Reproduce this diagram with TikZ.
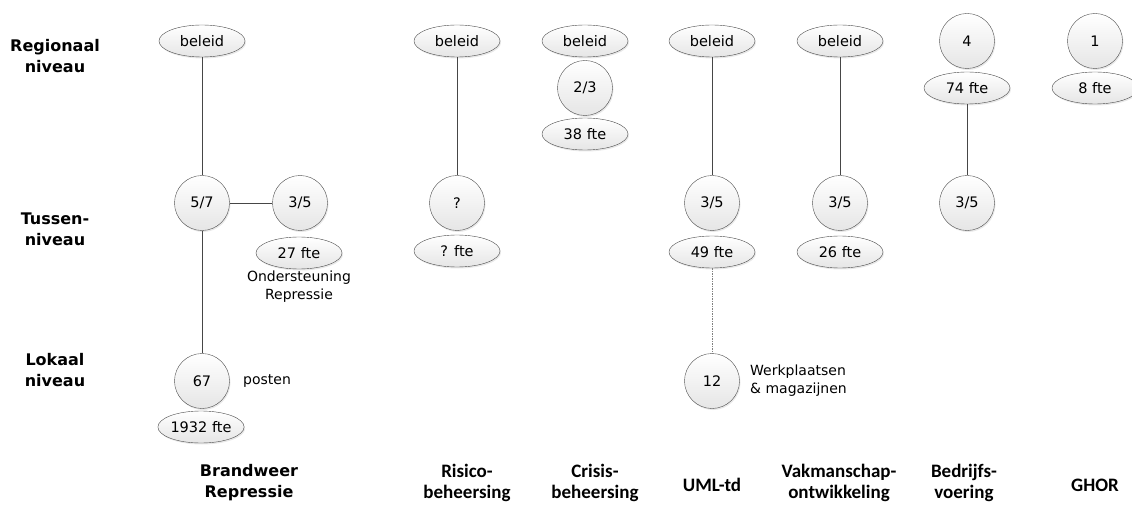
\documentclass[tikz,border=0pt]{standalone}
\usepackage{fontspec}
\setmainfont{DejaVu Sans}
\newfontfamily\colfont{Carlito}
\usetikzlibrary{shapes,positioning,shadows}

\tikzset{
    oval/.style={ellipse, draw=gray!60!black, top color=white, bottom color=gray!20,
        minimum width=86pt, minimum height=32pt, inner sep=0pt,
        font=\fontsize{14.5}{16}\selectfont,
        drop shadow={opacity=0.18, shadow xshift=1pt, shadow yshift=-1.5pt}},
    bubble/.style={circle, draw=gray!60!black, top color=white, bottom color=gray!20,
        minimum size=55pt, inner sep=0pt,
        font=\fontsize{14.5}{16}\selectfont,
        drop shadow={opacity=0.18, shadow xshift=1pt, shadow yshift=-1.5pt}},
    note/.style={inner sep=0pt, align=center, font=\fontsize{14}{18}\selectfont},
    levelname/.style={inner sep=0pt, align=center, font=\fontsize{16}{21}\selectfont\bfseries},
    colname/.style={inner sep=0pt, align=center, font=\colfont\fontsize{19}{21}\selectfont\bfseries},
    link/.style={draw=gray!55!black, line width=0.7pt}
}

\begin{document}
\begin{tikzpicture}[x=1pt, y=-1pt]
    \useasboundingbox (0,0) rectangle (1132,505);

    % Levels
    \node[levelname] (regio) at (55,56) {Regionaal\\niveau};
    \node[levelname] (tussen) at (55,229) {Tussen-\\niveau};
    \node[levelname] (lokaal) at (55,370) {Lokaal\\niveau};

    % Brandweer Repressie
    \node[oval] (brwBeleid) at (202,41) {beleid};
    \node[bubble] (brwTussen) at (202,203) {5/7};
    \node[bubble] (brwSteun) at (300,203) {3/5};
    \node[oval] (brwSteunFte) at (299,253) {27 fte};
    \node[note] (brwSteunTxt) at (299,287) {Ondersteuning\\Repressie};
    \node[bubble] (brwLokaal) at (202,381) {67};
    \node[oval] (brwLokaalFte) at (201,427) {1932 fte};
    \node[note, anchor=west] (brwPosten) at (243,381) {posten};

    % Risicobeheersing
    \node[oval] (rbBeleid) at (457,41) {beleid};
    \node[bubble] (rbTussen) at (457,203) {?};
    \node[oval] (rbFte) at (457,251) {? fte};

    % Crisisbeheersing
    \node[oval] (cbBeleid) at (585,41) {beleid};
    \node[bubble] (cbRegio) at (585,88) {2/3};
    \node[oval] (cbFte) at (585,134) {38 fte};

    % UML-td
    \node[oval] (umlBeleid) at (712,41) {beleid};
    \node[bubble] (umlTussen) at (712,203) {3/5};
    \node[oval] (umlFte) at (712,252) {49 fte};
    \node[bubble] (umlLokaal) at (712,381) {12};
    \node[note, anchor=west, align=left] (umlWerk) at (750,381) {Werkplaatsen\\\& magazijnen};

    % Vakmanschapontwikkeling
    \node[oval] (vakBeleid) at (840,41) {beleid};
    \node[bubble] (vakTussen) at (840,203) {3/5};
    \node[oval] (vakFte) at (840,252) {26 fte};

    % Bedrijfsvoering
    \node[bubble] (bvRegio) at (967,41) {4};
    \node[oval] (bvFte) at (967,88) {74 fte};
    \node[bubble] (bvTussen) at (967,203) {3/5};

    % GHOR
    \node[bubble] (ghorRegio) at (1095,41) {1};
    \node[oval] (ghorFte) at (1095,88) {8 fte};

    % Connections
    \draw[link] (brwBeleid) -- (brwTussen);
    \draw[link] (brwTussen) -- (brwSteun);
    \draw[link] (brwTussen) -- (brwLokaal);
    \draw[link] (rbBeleid) -- (rbTussen);
    \draw[link] (umlBeleid) -- (umlTussen);
    \draw[link, draw=gray, dash pattern=on 1.5pt off 1pt] (umlFte) -- (umlLokaal);
    \draw[link] (vakBeleid) -- (vakTussen);
    \draw[link] (bvFte) -- (bvTussen);

    % Column names
    \node[levelname] (brwNaam) at (249,483) {Brandweer\\Repressie};
    \node[colname] (rbNaam) at (467,483) {Risico-\\beheersing};
    \node[colname] (cbNaam) at (595,483) {Crisis-\\beheersing};
    \node[colname] (umlNaam) at (712,485) {UML-td};
    \node[colname] (vakNaam) at (839,483) {Vakmanschap-\\ontwikkeling};
    \node[colname] (bvNaam) at (964,483) {Bedrijfs-\\voering};
    \node[colname] (ghorNaam) at (1095,485) {GHOR};
\end{tikzpicture}
\end{document}
